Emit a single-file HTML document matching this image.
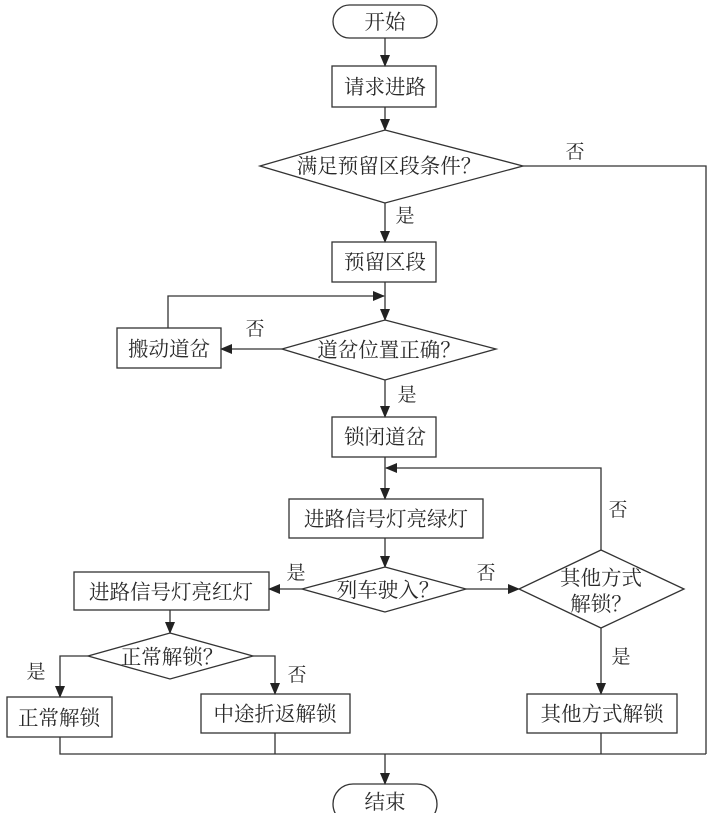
<!DOCTYPE html>
<html><head><meta charset="utf-8"><style>
html,body{margin:0;padding:0;background:#fff;}
svg{display:block;}
text{font-family:"Liberation Serif","Noto Serif CJK SC","Noto Sans CJK SC",serif;font-size:20.5px;fill:#2a2a2a;}
text.s{font-size:19px;}
</style></head><body>
<svg width="708" height="813" viewBox="0 0 708 813" xmlns="http://www.w3.org/2000/svg">
<defs><marker id="a" markerWidth="12" markerHeight="10" refX="11" refY="5" orient="auto" markerUnits="userSpaceOnUse"><path d="M0,0 L12,5 L0,10 Z" fill="#222"/></marker></defs>
<g fill="none" stroke="#333" stroke-width="1.3">
<rect x="333" y="5" width="104" height="33" rx="16.5"/>
<line x1="385" y1="38" x2="385" y2="66" marker-end="url(#a)"/>
<rect x="332" y="66" width="104" height="41"/>
<line x1="385" y1="107" x2="385" y2="130" marker-end="url(#a)"/>
<polygon points="385,130 523,166 385,203 260,166"/>
<line x1="385" y1="203" x2="385" y2="242" marker-end="url(#a)"/>
<rect x="332" y="242" width="104" height="40"/>
<polyline points="523,166 706,166 706,754"/>
<line x1="385" y1="282" x2="385" y2="320" marker-end="url(#a)"/>
<polyline points="168,328 168,296 384,296" marker-end="url(#a)"/>
<polygon points="385,320 496,349 385,380 282,349"/>
<line x1="282" y1="349" x2="221" y2="349" marker-end="url(#a)"/>
<rect x="117" y="328" width="104" height="40"/>
<line x1="385" y1="380" x2="385" y2="417" marker-end="url(#a)"/>
<rect x="332" y="417" width="104" height="40"/>
<line x1="385" y1="457" x2="385" y2="499" marker-end="url(#a)"/>
<polyline points="601,550 601,468 386,468" marker-end="url(#a)"/>
<rect x="289" y="499" width="194" height="39"/>
<line x1="385" y1="538" x2="385" y2="567" marker-end="url(#a)"/>
<polygon points="385,567 466,589 385,612 302,589"/>
<line x1="302" y1="589" x2="269" y2="589" marker-end="url(#a)"/>
<line x1="466" y1="589" x2="519" y2="589" marker-end="url(#a)"/>
<rect x="74" y="572" width="195" height="38"/>
<polygon points="601,550 684,589 601,628 519,589"/>
<line x1="601" y1="628" x2="601" y2="694" marker-end="url(#a)"/>
<rect x="527" y="694" width="150" height="39"/>
<line x1="170" y1="610" x2="170" y2="633" marker-end="url(#a)"/>
<polygon points="170,633 253,656 170,679 88,656"/>
<polyline points="88,656 60,656 60,697" marker-end="url(#a)"/>
<polyline points="253,656 275,656 275,694" marker-end="url(#a)"/>
<rect x="7" y="697" width="105" height="40"/>
<rect x="201" y="694" width="149" height="39"/>
<polyline points="60,737 60,754 706,754"/>
<line x1="275" y1="733" x2="275" y2="754"/>
<line x1="601" y1="733" x2="601" y2="754"/>
<line x1="385" y1="754" x2="385" y2="784" marker-end="url(#a)"/>
<rect x="333" y="784" width="104" height="40" rx="20"/>
</g>
<g text-anchor="middle">
<text x="385" y="29">开始</text>
<text x="385" y="94">请求进路</text>
<text x="389" y="173">满足预留区段条件？</text>
<text x="385" y="269">预留区段</text>
<text x="169" y="356">搬动道岔</text>
<text x="389" y="357">道岔位置正确？</text>
<text x="385" y="444">锁闭道岔</text>
<text x="386" y="526">进路信号灯亮绿灯</text>
<text x="388" y="597">列车驶入？</text>
<text x="171" y="599">进路信号灯亮红灯</text>
<text x="601" y="585">其他方式</text>
<text x="601" y="611">解锁？</text>
<text x="172" y="664">正常解锁？</text>
<text x="59" y="725">正常解锁</text>
<text x="275" y="721">中途折返解锁</text>
<text x="602" y="721">其他方式解锁</text>
<text x="385" y="809">结束</text>
<text class="s" x="575" y="158">否</text>
<text class="s" x="405" y="222">是</text>
<text class="s" x="255" y="335">否</text>
<text class="s" x="407" y="401">是</text>
<text class="s" x="618" y="516">否</text>
<text class="s" x="296" y="579">是</text>
<text class="s" x="486" y="579">否</text>
<text class="s" x="621" y="663">是</text>
<text class="s" x="36" y="678">是</text>
<text class="s" x="297" y="681">否</text>
</g>
</svg>
</body></html>
